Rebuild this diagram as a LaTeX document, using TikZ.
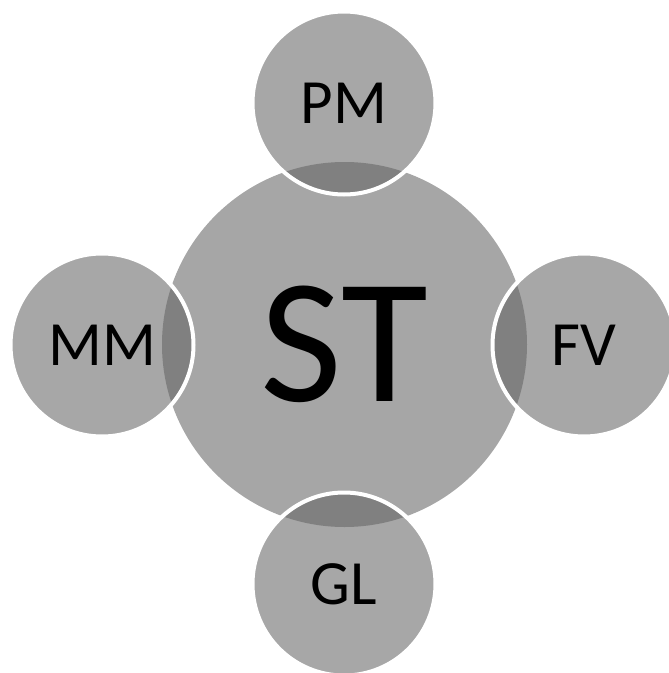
\documentclass[tikz,border=0pt]{standalone}
\usepackage{fontspec}
\setmainfont{Carlito}
\definecolor{hubgray}{RGB}{166,166,166}
\definecolor{satgray}{RGB}{100,100,100}
\begin{document}
\begin{tikzpicture}[x=1pt,y=-1pt,
  hub/.style={circle,inner sep=0pt,minimum size=365pt,fill=hubgray,draw=none,font=\fontsize{178}{178}\selectfont},
  sat/.style={circle,inner sep=0pt,minimum size=183pt,fill=satgray,fill opacity=0.57,text opacity=1,draw=white,draw opacity=1,line width=4pt,font=\fontsize{63}{63}\selectfont}]
\useasboundingbox (0,0) rectangle (669,673);
\node[hub] (st) at (344.5,344.5) {ST};
\node[sat] (pm) at (344,103) {PM};
\node[sat] (mm) at (102,345) {MM};
\node[sat] (fv) at (584,345) {FV};
\node[sat] (gl) at (344,584) {GL};
\end{tikzpicture}
\end{document}
